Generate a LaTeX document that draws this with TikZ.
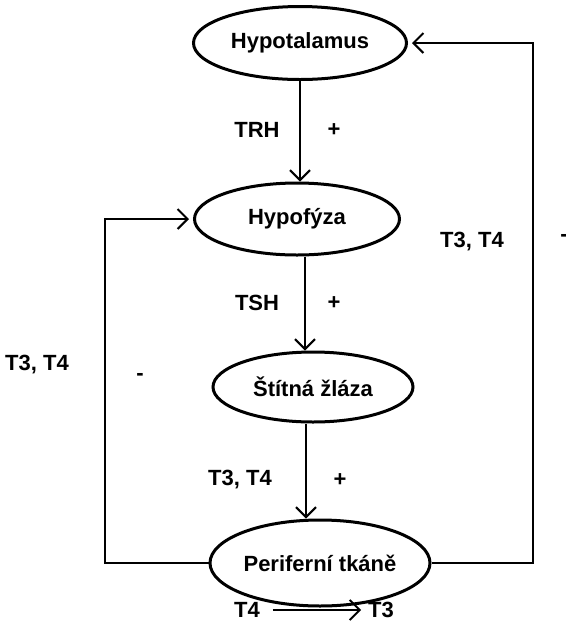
\documentclass[tikz,border=0pt]{standalone}
\usepackage{fontspec}
\setmainfont{Liberation Sans}
\usetikzlibrary{arrows.meta, shapes.geometric}

\begin{document}
\begin{tikzpicture}[x=0.5pt, y=-0.5pt,
    font=\fontsize{11}{13}\selectfont\bfseries,
    organ/.style={draw, ellipse, line width=1.5pt, inner sep=0pt},
    hormone/.style={line width=1pt, ->},
    feedback/.style={line width=1.2pt, ->, shorten >=2pt},
    >={Straight Barb[length=5pt, width=10pt, line width=1pt]}]
    \useasboundingbox (0,0) rectangle (566,623);

    % Organs
    \node[organ, minimum width=106.5pt, minimum height=36.5pt] (hypotalamus) at (300,43) {Hypotalamus};
    \node[organ, minimum width=102.5pt, minimum height=36pt] (hypofyza) at (297,219) {Hypofýza};
    \node[organ, minimum width=100pt, minimum height=35pt] (stitna) at (313,387) {Štítná žláza};
    \node[organ, minimum width=110pt, minimum height=43pt] (periferni) at (320,563) {Periferní tkáně};

    % Hormones down the axis
    \draw[hormone] (hypotalamus.south) -- (hypotalamus.south |- hypofyza.north);
    \draw[hormone] ([xshift=4pt]hypofyza.south) -- ([xshift=4pt]hypofyza.south |- stitna.north);
    \draw[hormone] ([xshift=-3.5pt]stitna.south) -- ([xshift=-3.5pt]stitna.south |- periferni.north);

    \node (trh) at (257,130) {TRH};
    \node (trhplus) at (334,130) {+};
    \node (tsh) at (257,303) {TSH};
    \node (tshplus) at (334,303) {+};
    \node (t34) at (240,480) {T3, T4};
    \node (t34plus) at (340,480) {+};

    % Feedback loops
    \coordinate (rcorner) at (533,43);
    \coordinate (lcorner) at (105,219);
    \draw[feedback] (periferni.east) -| (rcorner) -- (hypotalamus.east);
    \draw[feedback] (periferni.west) -| (lcorner) -- (hypofyza.west);

    \node (rt34) at (472,242) {T3, T4};
    \node (rminus) at (564,238) {-};
    \node (lt34) at (37,365) {T3, T4};
    \node (lminus) at (140,377) {-};

    % Conversion
    \node (t4) at (247,610) {T4};
    \node (t3) at (381,610) {T3};
    \draw[hormone, shorten <=3pt] (t4) -- (t3);
\end{tikzpicture}
\end{document}
